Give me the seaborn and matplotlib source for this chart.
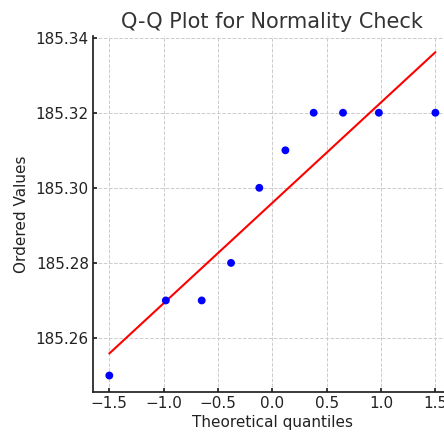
import numpy as np
import pandas as pd
import matplotlib
matplotlib.use("Agg")
import matplotlib.pyplot as plt
import seaborn as sns

theoretical_quantiles = [-1.50, -0.98, -0.65, -0.38, -0.12, 0.12, 0.38, 0.65, 0.98, 1.50]
ordered_values = [185.25, 185.27, 185.27, 185.28, 185.30, 185.31, 185.32, 185.32, 185.32, 185.32]
y_ticks = [185.26, 185.28, 185.30, 185.32, 185.34]
x_ticks = [-1.5, -1.0, -0.5, 0.0, 0.5, 1.0, 1.5]

sns.set_theme(style="ticks")
plt.rcParams['font.family'] = ['DejaVu Sans']

df = pd.DataFrame({"q": theoretical_quantiles, "v": ordered_values})
slope, intercept = np.polyfit(df["q"], df["v"], 1)
fit = pd.DataFrame({"q": [df["q"].min(), df["q"].max()]})
fit["v"] = slope * fit["q"] + intercept

fig = plt.figure(figsize=(4.44, 4.32), dpi=100)
ax = fig.add_axes([93/444, (432-391.7)/432, 358.7/444, 355.7/432])

sns.scatterplot(data=df, x="q", y="v", ax=ax, color="blue", s=32, edgecolor="none", zorder=3)
sns.lineplot(data=fit, x="q", y="v", ax=ax, color="red", linewidth=1.5, zorder=2)

ax.set_xticks(x_ticks)
ax.set_yticks(y_ticks)
ax.set_yticklabels([f"{t:.2f}" for t in y_ticks])
ax.grid(True, linestyle="--", color="#cccccc", linewidth=0.7)
ax.set_axisbelow(True)
for s in ["top", "right"]:
    ax.spines[s].set_visible(False)
for s in ["left", "bottom"]:
    ax.spines[s].set_color("#222222")
ax.tick_params(labelsize=11, colors="#222222", length=3, direction="in", pad=3)
ax.set_xlabel("Theoretical quantiles", fontsize=11, color="#222222", labelpad=3)
ax.set_ylabel("Ordered Values", fontsize=11, color="#222222", labelpad=5)
ax.set_title("Q-Q Plot for Normality Check", fontsize=15, color="#333333", pad=6)

fig.savefig("out.png", dpi=100)
